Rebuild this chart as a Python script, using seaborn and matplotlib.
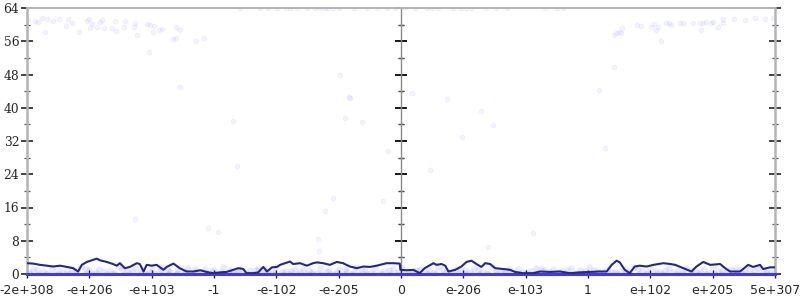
import matplotlib
matplotlib.use('Agg')
import matplotlib.pyplot as plt
from matplotlib.ticker import MultipleLocator
import seaborn as sns
import pandas as pd

# ---------------- data ----------------
tick_labels = ['-2e+308', '-e+206', '-e+103', '-1', '-e-102', '-e-205', '0',
               'e-206', 'e-103', '1', 'e+102', 'e+205', '5e+307']
y_ticks = [0, 8, 16, 24, 32, 40, 48, 56, 64]

# averaged error line (x in tick-index units, y in bits)
line_x_neg = [0.0, 0.10, 0.21, 0.32, 0.42, 0.53, 0.64, 0.74, 0.82, 0.88,
              0.96, 1.04, 1.12, 1.17, 1.28, 1.38, 1.44, 1.49, 1.57, 1.65,
              1.76, 1.81, 1.87, 1.92, 2.00, 2.08, 2.19, 2.24, 2.35, 2.45,
              2.56, 2.67, 2.78, 2.88, 2.99, 3.10, 3.20, 3.31, 3.39, 3.47,
              3.52, 3.63, 3.71, 3.79, 3.85, 3.93, 4.01, 4.06, 4.14, 4.22,
              4.27, 4.38, 4.49, 4.59, 4.65, 4.75, 4.86, 4.97, 5.07, 5.18,
              5.29, 5.40, 5.50, 5.61, 5.77, 5.88, 5.98]
line_y_neg = [2.6, 2.5, 2.2, 2.0, 1.8, 2.0, 1.7, 1.4, 0.6, 2.2,
              2.9, 3.3, 3.7, 3.3, 2.9, 2.4, 2.0, 2.6, 1.4, 1.7,
              2.6, 2.4, 0.6, 2.2, 2.0, 2.2, 1.0, 1.7, 2.5, 1.4,
              0.6, 0.6, 0.9, 0.5, 0.2, 0.4, 0.5, 1.0, 1.4, 1.2,
              0.2, 0.2, 0.4, 1.7, 0.6, 1.6, 1.7, 2.2, 2.6, 3.0,
              2.4, 2.6, 2.0, 2.6, 2.8, 2.6, 2.2, 2.9, 2.6, 1.8,
              1.4, 1.8, 1.7, 2.0, 2.6, 2.6, 2.5]
line_x_pos = [5.99, 6.09, 6.20, 6.30, 6.38, 6.52, 6.57, 6.65, 6.71, 6.76,
              6.87, 6.97, 7.05, 7.13, 7.21, 7.29, 7.35, 7.43, 7.51, 7.64,
              7.75, 7.83, 7.96, 8.12, 8.23, 8.39, 8.55, 8.71, 8.87, 9.03,
              9.19, 9.30, 9.38, 9.46, 9.51, 9.59, 9.67, 9.75, 9.83, 9.94,
              10.05, 10.21, 10.32, 10.40, 10.53, 10.66, 10.74, 10.85, 10.96, 11.12,
              11.20, 11.28, 11.44, 11.57, 11.65, 11.76, 11.81, 11.92, 12.0]
line_y_pos = [1.0, 0.9, 1.0, 0.2, 1.4, 2.6, 2.2, 2.4, 2.0, 0.6,
              1.0, 1.8, 2.9, 3.2, 2.4, 1.7, 2.6, 2.4, 1.4, 1.2,
              1.0, 0.5, 0.2, 0.2, 0.6, 0.5, 0.6, 0.2, 0.4, 0.5,
              0.6, 0.6, 2.2, 3.2, 2.8, 1.0, 0.2, 1.8, 2.0, 1.8,
              2.2, 2.6, 2.4, 2.2, 1.4, 0.6, 1.8, 2.9, 2.2, 2.4,
              1.4, 0.6, 0.6, 2.2, 1.7, 2.2, 1.2, 1.6, 1.6]

# sampled points with large error
high_pts = [
    (0.02, 61.1), (0.13, 60.9), (0.17, 60.6), (0.24, 61.6), (0.32, 61.3), (0.29, 58.3),
    (0.42, 60.9), (0.51, 61.4), (0.65, 61.3), (0.63, 59.7), (0.72, 60.3), (0.83, 58.3),
    (0.97, 60.9), (1.00, 61.3), (1.05, 60.1), (1.01, 59.1), (1.13, 59.5), (1.17, 60.7),
    (1.20, 61.1), (1.24, 59.1), (1.37, 59.1), (1.41, 60.9), (1.42, 58.5), (1.55, 59.5),
    (1.57, 60.8), (1.73, 60.5), (1.72, 59.5), (1.76, 57.5), (1.92, 60.1), (1.97, 59.9),
    (1.96, 53.5), (2.03, 59.7), (2.02, 58.3), (2.12, 58.7), (2.16, 58.9), (2.35, 56.5),
    (2.39, 56.9), (2.39, 59.5), (2.45, 58.7), (2.45, 44.9), (2.71, 56.1), (2.84, 56.9),
    (3.31, 36.9), (3.42, 63.9), (3.74, 63.9), (3.87, 63.9), (4.01, 63.9), (4.16, 63.9),
    (4.22, 63.9), (4.33, 63.9), (4.49, 63.9), (4.62, 63.9), (4.70, 63.9), (4.78, 63.9),
    (4.83, 63.9), (4.91, 63.9), (5.00, 63.9), (5.24, 63.9), (5.45, 63.9), (5.61, 63.9),
    (5.77, 63.9), (5.90, 63.9), (5.02, 47.9), (5.10, 37.5), (5.17, 42.5), (5.37, 36.6),
    (6.06, 63.9), (6.22, 63.9), (6.41, 63.9), (6.49, 63.9), (6.60, 63.9), (6.84, 63.9),
    (6.97, 63.9), (7.05, 63.9), (7.13, 63.9), (7.37, 63.9), (7.53, 63.9), (7.70, 63.9),
    (8.31, 63.9), (8.50, 63.9), (8.60, 63.9),
    (6.17, 43.6), (6.73, 42.1), (7.28, 39.2), (7.48, 35.8), (6.98, 32.9), (9.28, 30.4),
    (9.17, 44.3), (9.42, 49.7), (9.41, 57.5), (9.45, 57.9), (9.49, 58.3), (9.53, 57.9),
    (9.54, 59.3), (9.79, 59.9), (9.85, 59.7), (10.01, 59.5), (10.06, 60.1), (10.09, 58.7),
    (10.13, 59.5), (10.17, 56.1), (10.25, 60.3), (10.30, 60.5), (10.33, 59.9), (10.47, 60.3),
    (10.53, 60.5), (10.68, 60.5), (10.80, 60.3), (10.81, 58.7), (10.85, 60.5), (10.89, 60.7),
    (10.97, 60.5), (11.01, 60.6), (11.08, 59.5), (11.17, 61.3), (11.16, 60.5), (11.35, 61.3),
    (11.52, 61.1), (11.68, 61.7), (11.84, 61.3), (11.97, 61.5),
]
mid_pts = [
    (1.73, 13.2), (2.90, 11.0), (3.06, 10.1), (3.37, 26.0), (4.78, 15.2), (4.91, 18.2),
    (5.71, 17.5), (5.79, 29.6), (4.67, 8.4), (4.68, 5.5), (5.18, 42.3), (6.47, 25.0),
    (8.12, 9.9), (7.40, 6.5),
]
# sampled points with (almost) zero error
zero_x = [0.05, 0.18, 0.31, 0.44, 0.52, 0.67, 0.79, 0.93, 1.06, 1.14, 1.29, 1.41, 1.55,
          1.63, 1.78, 1.92, 2.04, 2.17, 2.26, 2.39, 2.51, 2.66, 2.74, 2.88, 3.02, 3.13,
          3.27, 3.36, 3.49, 3.61, 3.76, 3.84, 3.97, 4.11, 4.23, 4.35, 4.47, 4.58, 4.72,
          4.86, 4.94, 5.08, 5.21, 5.33, 5.46, 5.57, 5.69, 5.82, 5.94, 6.07, 6.19, 6.28,
          6.43, 6.55, 6.68, 6.77, 6.91, 7.04, 7.16, 7.25, 7.39, 7.52, 7.63, 7.74, 7.88,
          8.01, 8.13, 8.24, 8.37, 8.49, 8.62, 8.71, 8.85, 8.97, 9.09, 9.22, 9.34, 9.46,
          9.58, 9.67, 9.81, 9.93, 10.06, 10.18, 10.27, 10.42, 10.53, 10.66, 10.78, 10.89,
          11.03, 11.15, 11.26, 11.38, 11.51, 11.63, 11.74, 11.87, 11.96]
band_x = [0.1, 0.25, 0.4, 0.58, 0.72, 0.86, 1.0, 1.15, 1.33, 1.47,
          1.6, 1.74, 1.88, 2.01, 2.15, 2.3, 2.43, 2.58, 2.7, 2.85,
          3.0, 3.15, 3.3, 3.42, 3.58, 3.7, 3.86, 4.0, 4.15, 4.3,
          4.42, 4.57, 4.7, 4.85, 5.0, 5.14, 5.28, 5.43, 5.58, 5.72,
          5.87, 6.02, 6.16, 6.3, 6.45, 6.6, 6.74, 6.88, 7.02, 7.17,
          7.3, 7.46, 7.6, 7.73, 7.88, 8.02, 8.16, 8.3, 8.44, 8.58,
          8.73, 8.87, 9.01, 9.16, 9.3, 9.44, 9.59, 9.73, 9.87, 10.0,
          10.15, 10.3, 10.44, 10.58, 10.72, 10.86, 11.0, 11.15, 11.3, 11.44,
          11.58, 11.72, 11.86]
band_y = [1.2, 0.8, 1.5, 0.6, 1.1, 1.7, 0.9, 1.3, 0.7, 1.6,
          1.0, 1.4, 0.5, 1.2, 1.8, 0.8, 1.1, 1.5, 0.6, 1.3,
          0.9, 1.6, 0.7, 1.2, 1.0, 1.4, 0.5, 1.7, 0.8, 1.1,
          1.3, 0.6, 1.5, 0.9, 1.2, 0.7, 1.6, 1.0, 1.4, 0.8,
          1.1, 1.5, 0.6, 1.3, 0.9, 1.7, 0.7, 1.2, 1.0, 1.4,
          0.5, 1.6, 0.8, 1.1, 1.3, 0.6, 1.5, 0.9, 1.2, 0.7,
          1.4, 1.0, 1.6, 0.8, 1.1, 0.5, 1.3, 1.7, 0.9, 1.2,
          0.6, 1.5, 1.0, 1.4, 0.7, 1.1, 1.6, 0.8, 1.3, 0.9,
          1.2, 1.5, 0.7]
band2_x = [0.03, 0.16, 0.34, 0.49, 0.64, 0.78, 0.95, 1.09, 1.24, 1.38,
           1.53, 1.69, 1.83, 1.97, 2.11, 2.27, 2.4, 2.54, 2.69, 2.81,
           2.96, 3.11, 3.24, 3.39, 3.53, 3.67, 3.81, 3.95, 4.09, 4.24,
           4.38, 4.52, 4.66, 4.8, 4.95, 5.1, 5.24, 5.38, 5.52, 5.66,
           5.8, 5.95, 6.11, 6.24, 6.39, 6.53, 6.67, 6.82, 6.96, 7.1,
           7.24, 7.38, 7.53, 7.67, 7.81, 7.95, 8.09, 8.24, 8.38, 8.52,
           8.66, 8.8, 8.95, 9.09, 9.24, 9.38, 9.52, 9.66, 9.8, 9.95,
           10.09, 10.23, 10.37, 10.52, 10.66, 10.8, 10.94, 11.09, 11.23, 11.37,
           11.52, 11.66, 11.8, 11.94]
band2_y = [0.4, 0.9, 0.3, 1.0, 0.6, 0.4, 1.2, 0.5, 0.8, 0.3,
           1.1, 0.6, 0.9, 0.4, 0.7, 1.0, 0.3, 0.8, 1.2, 0.5,
           0.7, 0.4, 1.0, 0.6, 0.3, 0.9, 1.1, 0.5, 0.4, 0.8,
           0.6, 1.0, 0.3, 0.7, 0.5, 1.1, 0.4, 0.8, 0.6, 0.3,
           0.9, 0.5, 0.7, 1.0, 0.4, 0.6, 1.2, 0.3, 0.8, 0.5,
           0.9, 0.4, 0.7, 1.0, 0.3, 0.6, 0.8, 1.1, 0.4, 0.5,
           0.9, 0.3, 0.7, 1.0, 0.6, 0.4, 0.8, 0.5, 1.1, 0.3,
           0.7, 0.9, 0.4, 0.6, 1.0, 0.5, 0.3, 0.8, 0.6, 1.2,
           0.4, 0.7, 0.9, 0.5]

# ---------------- frames ----------------
line_df = pd.DataFrame({'x': line_x_neg + line_x_pos, 'y': line_y_neg + line_y_pos})
low_pts = ([(x, 0.0) for x in zero_x] + list(zip(band_x, band_y))
           + list(zip(band2_x, band2_y)))
low_df = pd.DataFrame(low_pts, columns=['x', 'y'])
hi_df = pd.DataFrame(high_pts + mid_pts, columns=['x', 'y'])

# ---------------- figure ----------------
sns.set_style('white')
fig = plt.figure(figsize=(8, 3), dpi=100)
ax = fig.add_axes([27 / 800, 26 / 300, 748 / 800, 266 / 300])

sns.scatterplot(data=hi_df, x='x', y='y', ax=ax, color='#2020ff', alpha=0.05,
                s=11, linewidth=0.7, edgecolor='#2020ff', legend=False, zorder=2)
sns.scatterplot(data=low_df, x='x', y='y', ax=ax, color='#3030ff', alpha=0.10,
                s=22, linewidth=0.0, legend=False, zorder=2)
sns.lineplot(data=line_df, x='x', y='y', ax=ax, color='#25258c', linewidth=1.5,
             estimator=None, sort=False, zorder=4)

ax.set_xlim(0, 12)
ax.set_ylim(0, 64)
ax.set_xlabel('')
ax.set_ylabel('')

ax.set_xticks(range(len(tick_labels)))
ax.set_xticklabels(tick_labels, fontfamily='DejaVu Sans', fontsize=9)
ax.set_yticks(y_ticks)
ax.set_yticklabels([str(v) for v in y_ticks], fontfamily='DejaVu Serif', fontsize=8.8)
ax.yaxis.set_minor_locator(MultipleLocator(4))

ax.tick_params(axis='x', which='major', direction='inout', length=6, width=1,
               color='#222222', pad=4, bottom=True)
ax.tick_params(axis='y', which='major', direction='inout', length=8, width=1.1,
               color='#111111', pad=1.5, left=True, right=True, labelright=False)
ax.tick_params(axis='y', which='minor', direction='inout', length=4, width=0.9,
               color='#555555', left=True, right=True)

for side in ('left', 'right'):
    ax.spines[side].set_color('#b4b4b4')
    ax.spines[side].set_linewidth(1.8)
ax.spines['top'].set_color('#b4b4b4')
ax.spines['top'].set_linewidth(1.4)
ax.spines['bottom'].set_color('#3c3ce6')
ax.spines['bottom'].set_linewidth(2.2)
ax.spines['bottom'].set_zorder(3)

# central axis at x = 0
mid = ax.secondary_yaxis(0.5)
mid.set_yticks(y_ticks)
mid.yaxis.set_minor_locator(MultipleLocator(4))
mid.tick_params(axis='y', which='major', direction='inout', length=8, width=1.1,
                color='#111111', labelleft=False, labelright=False, left=True)
mid.tick_params(axis='y', which='minor', direction='inout', length=4, width=0.9,
                color='#555555', left=True)
for s in mid.spines.values():
    s.set_color('#8a8a8a')
    s.set_linewidth(1.0)

fig.savefig('out.png', dpi=100)
